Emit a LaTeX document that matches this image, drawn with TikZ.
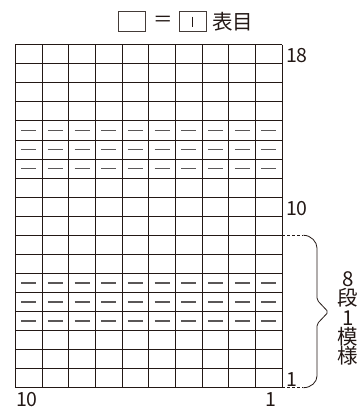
\documentclass[tikz,border=0pt]{standalone}
\usepackage{fontspec}
\setmainfont{Noto Sans CJK JP}
\definecolor{gridc}{HTML}{231815}
\definecolor{purlc}{HTML}{5A5757}
\definecolor{textc}{HTML}{231815}
\newcommand\mytightlines{\lineskiplimit=-30pt\relax\lineskip=0pt\relax}
\begin{document}
\begin{tikzpicture}[x=1pt,y=-1pt,
  gridline/.style={line width=0.9pt, draw=gridc},
  purlmark/.style={line width=1.3pt, draw=purlc},
  numlab/.style={font=\fontsize{19.5}{19.5}\selectfont, text=textc, inner sep=0pt},
  cjklab/.style={font=\fontsize{20.5}{20.5}\selectfont, text=textc, inner sep=0pt},
  legbox/.style={line width=0.9pt, draw=gridc!85},
  bracel/.style={line width=0.8pt, draw=gridc}]
\useasboundingbox (0,0) rectangle (360,410);
\def\L{15.3}\def\R{282.3}\def\T{44.7}\def\B{387.7}
\def\W{26.7}\def\H{19.0556}
% grid
\foreach \i in {0,...,10} \draw[gridline] ({\L+\i*\W},\T) -- ({\L+\i*\W},\B);
\foreach \j in {0,...,18} \draw[gridline] (\L,{\T+\j*\H}) -- (\R,{\T+\j*\H});
% purl marks
\foreach \k in {4,5,6,12,13,14}
  \foreach \c in {1,...,10}
    \draw[purlmark] ({\L+(\c-0.5)*\W-7.5},{\B-(\k-0.5)*\H}) -- ++(15,0);
% row labels
\node[numlab, anchor=base west] (r18) at (\R+3.5,{\T+\H-1}) {18};
\node[numlab, anchor=base west] (r10) at (\R+3.5,{\B-9*\H-1}) {10};
\node[numlab, anchor=base west] (r1) at (\R+3.5,\B-1) {1};
% column labels
\node[numlab, anchor=base] (c10) at (27,406.5) {10};
\node[numlab, anchor=base] (c1) at (270.5,406.5) {1};
% brace
\coordinate (btop) at (\R,{\B-8*\H});
\coordinate (bbot) at (\R,\B);
\draw[bracel, dashed, dash pattern=on 3pt off 2pt] (btop) -- ++(21,0) coordinate (bt1);
\draw[bracel, dashed, dash pattern=on 3pt off 2pt] (bbot) -- ++(21,0) coordinate (bb1);
\draw[bracel, rounded corners=2pt] (bt1) .. controls ++(8,0) and (317,242) .. (317,250) -- (317,300) -- (328.3,312) -- (317,324) -- (317,374) .. controls (317,382) and ([xshift=8pt]bb1) .. (bb1);
\node[cjklab, anchor=north, align=center, font={\fontsize{20.5}{19.2}\selectfont\mytightlines}] (rep) at (348,271.7) {8\\段\\1\\模\\様};
% legend
\draw[legbox] (118.3,11.7) rectangle (145,31.7);
\node[cjklab, font=\fontsize{19.5}{19.5}\selectfont] (eq) at (163,21.5) {＝};
\draw[legbox] (179.3,11.7) rectangle (206,31.7);
\draw[line width=1.2pt, draw=gridc] (192.6,16.7) -- (192.6,26.7);
\node[cjklab, anchor=west] (leg) at (212,21.5) {表目};
\end{tikzpicture}
\end{document}
